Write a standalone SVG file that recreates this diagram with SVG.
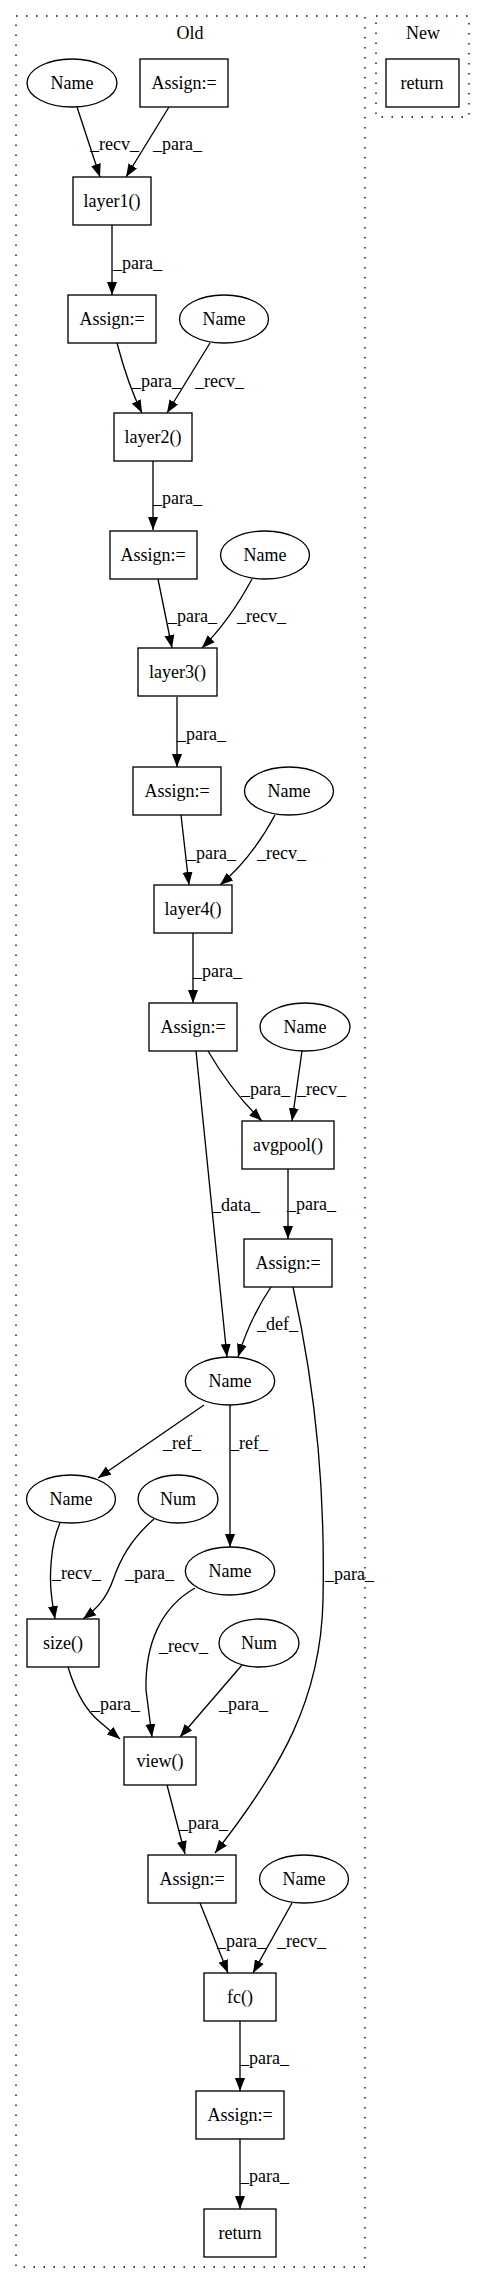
<svg xmlns="http://www.w3.org/2000/svg" width="485" height="2284" viewBox="0 0 485 2284" font-family="'Liberation Serif', 'Times New Roman', 'DejaVu Serif', serif" font-size="18">
<style>
text{font-family:'Liberation Serif','Times New Roman','DejaVu Serif',serif;font-size:18px;fill:#000}
.n{text-anchor:middle}
.b{fill:#fff;stroke:#000;stroke-width:1.33}
.c{fill:none;stroke:#000;stroke-width:1.33;stroke-dasharray:1.5,8.5}
.e{fill:none;stroke:#000;stroke-width:1.33;marker-end:url(#a)}
</style>
<defs>
<marker id="a" markerUnits="userSpaceOnUse" markerWidth="14" markerHeight="11" refX="13" refY="5.5" orient="auto">
<path d="M0,0.5 L13,5.5 L0,10.5 z" fill="#000"/>
</marker>
</defs>
<rect width="485" height="2284" fill="#fff"/>
<g id="cluster_old"><rect class="c" x="16" y="16" width="349" height="2251"/><text class="n" x="190" y="39">Old</text></g>
<g id="cluster_new"><rect class="c" x="376" y="16" width="93" height="101"/><text class="n" x="423" y="39">New</text></g>
<g id="edges">
<path class="e" d="M77,107 L100,177"/><text x="90" y="150">_recv_</text>
<path class="e" d="M169,107 L126,177"/><text x="153" y="150">_para_</text>
<path class="e" d="M112,225 L112,295"/><text x="113" y="269">_para_</text>
<path class="e" d="M117,343 Q128,385 142,413"/><text x="132" y="387">_para_</text>
<path class="e" d="M210,343 L167,413"/><text x="195" y="387">_recv_</text>
<path class="e" d="M153,461 L153,530"/><text x="153" y="504">_para_</text>
<path class="e" d="M158,579 L172,648"/><text x="168" y="622">_para_</text>
<path class="e" d="M252,579 Q230,620 202,648"/><text x="237" y="622">_recv_</text>
<path class="e" d="M177,697 L177,767"/><text x="177" y="740">_para_</text>
<path class="e" d="M181,815 L189,885"/><text x="187" y="859">_para_</text>
<path class="e" d="M275,815 Q252,858 220,885"/><text x="257" y="859">_recv_</text>
<path class="e" d="M193,933 L193,1003"/><text x="193" y="977">_para_</text>
<path class="e" d="M208,1051 Q232,1092 262,1121"/><text x="241" y="1095">_para_</text>
<path class="e" d="M302,1051 L292,1121"/><text x="297" y="1095">_recv_</text>
<path class="e" d="M196,1051 L227,1357"/><text x="212" y="1211">_data_</text>
<path class="e" d="M288,1169 L288,1239"/><text x="287" y="1210">_para_</text>
<path class="e" d="M271,1287 Q250,1318 238,1357"/><text x="257" y="1330">_def_</text>
<path class="e" d="M293,1287 C318,1400 325,1500 323,1600 C321,1700 280,1770 215,1853"/><text x="325" y="1580">_para_</text>
<path class="e" d="M204,1405 L98,1478"/><text x="163" y="1449">_ref_</text>
<path class="e" d="M230,1405 L230,1547"/><text x="230" y="1449">_ref_</text>
<path class="e" d="M60,1523 C50,1545 49,1580 52,1600 L55,1619"/><text x="52" y="1579">_recv_</text>
<path class="e" d="M154,1519 C130,1540 120,1560 113,1580 C106,1600 95,1610 83,1619"/><text x="125" y="1579">_para_</text>
<path class="e" d="M68,1667 C75,1690 85,1710 100,1722 L120,1739"/><text x="91" y="1710">_para_</text>
<path class="e" d="M195,1588 C160,1608 145,1645 146,1690 L152,1737"/><text x="159" y="1652">_recv_</text>
<path class="e" d="M242,1665 L180,1737"/><text x="219" y="1710">_para_</text>
<path class="e" d="M167,1785 L185,1854"/><text x="179" y="1829">_para_</text>
<path class="e" d="M200,1903 L228,1973"/><text x="217" y="1947">_para_</text>
<path class="e" d="M292,1903 L253,1973"/><text x="277" y="1947">_recv_</text>
<path class="e" d="M240,2021 L240,2091"/><text x="240" y="2064">_para_</text>
<path class="e" d="M240,2139 L240,2209"/><text x="240" y="2182">_para_</text>
</g>
<g id="name1"><ellipse class="b" cx="72" cy="83" rx="45" ry="24"/><text class="n" x="72" y="89">Name</text></g>
<g id="assign1"><rect class="b" x="140" y="59" width="88" height="48"/><text class="n" x="184" y="89">Assign:=</text></g>
<g id="new_return"><rect class="b" x="386" y="59" width="73" height="48"/><text class="n" x="422" y="89">return</text></g>
<g id="layer1"><rect class="b" x="73" y="177" width="78" height="48"/><text class="n" x="112" y="207">layer1()</text></g>
<g id="assign2"><rect class="b" x="68" y="295" width="88" height="48"/><text class="n" x="112" y="325">Assign:=</text></g>
<g id="name2"><ellipse class="b" cx="224" cy="319" rx="44.5" ry="24"/><text class="n" x="224" y="325">Name</text></g>
<g id="layer2"><rect class="b" x="114" y="413" width="78" height="48"/><text class="n" x="153" y="443">layer2()</text></g>
<g id="assign3"><rect class="b" x="110" y="531" width="87" height="48"/><text class="n" x="153" y="561">Assign:=</text></g>
<g id="name3"><ellipse class="b" cx="265" cy="555" rx="44.5" ry="24"/><text class="n" x="265" y="561">Name</text></g>
<g id="layer3"><rect class="b" x="138" y="648" width="79" height="48"/><text class="n" x="177.5" y="678">layer3()</text></g>
<g id="assign4"><rect class="b" x="133" y="767" width="88" height="48"/><text class="n" x="177" y="797">Assign:=</text></g>
<g id="name4"><ellipse class="b" cx="289" cy="791" rx="44.5" ry="24"/><text class="n" x="289" y="797">Name</text></g>
<g id="layer4"><rect class="b" x="154" y="885" width="78" height="48"/><text class="n" x="193" y="915">layer4()</text></g>
<g id="assign5"><rect class="b" x="149" y="1003" width="88" height="48"/><text class="n" x="193" y="1033">Assign:=</text></g>
<g id="name5"><ellipse class="b" cx="305" cy="1027" rx="45" ry="24"/><text class="n" x="305" y="1033">Name</text></g>
<g id="avgpool"><rect class="b" x="242" y="1121" width="92" height="48"/><text class="n" x="288" y="1151">avgpool()</text></g>
<g id="assign6"><rect class="b" x="244" y="1239" width="88" height="48"/><text class="n" x="288" y="1269">Assign:=</text></g>
<g id="name6"><ellipse class="b" cx="230" cy="1381" rx="44.7" ry="24"/><text class="n" x="230" y="1387">Name</text></g>
<g id="name7"><ellipse class="b" cx="71" cy="1499" rx="44.5" ry="24"/><text class="n" x="71" y="1505">Name</text></g>
<g id="num1"><ellipse class="b" cx="178" cy="1499" rx="40" ry="24"/><text class="n" x="178" y="1505">Num</text></g>
<g id="name8"><ellipse class="b" cx="230" cy="1571" rx="44.7" ry="24"/><text class="n" x="230" y="1577">Name</text></g>
<g id="size"><rect class="b" x="27" y="1619" width="72" height="48"/><text class="n" x="63" y="1649">size()</text></g>
<g id="num2"><ellipse class="b" cx="259" cy="1643" rx="40" ry="24"/><text class="n" x="259" y="1649">Num</text></g>
<g id="view"><rect class="b" x="124" y="1737" width="72" height="48"/><text class="n" x="160" y="1767">view()</text></g>
<g id="assign7"><rect class="b" x="148" y="1855" width="88" height="48"/><text class="n" x="192" y="1885">Assign:=</text></g>
<g id="name9"><ellipse class="b" cx="304" cy="1879" rx="44.5" ry="24"/><text class="n" x="304" y="1885">Name</text></g>
<g id="fc"><rect class="b" x="204" y="1973" width="72" height="48"/><text class="n" x="240" y="2003">fc()</text></g>
<g id="assign8"><rect class="b" x="196" y="2091" width="88" height="48"/><text class="n" x="240" y="2121">Assign:=</text></g>
<g id="old_return"><rect class="b" x="204" y="2209" width="72" height="48"/><text class="n" x="240" y="2239">return</text></g>
</svg>
